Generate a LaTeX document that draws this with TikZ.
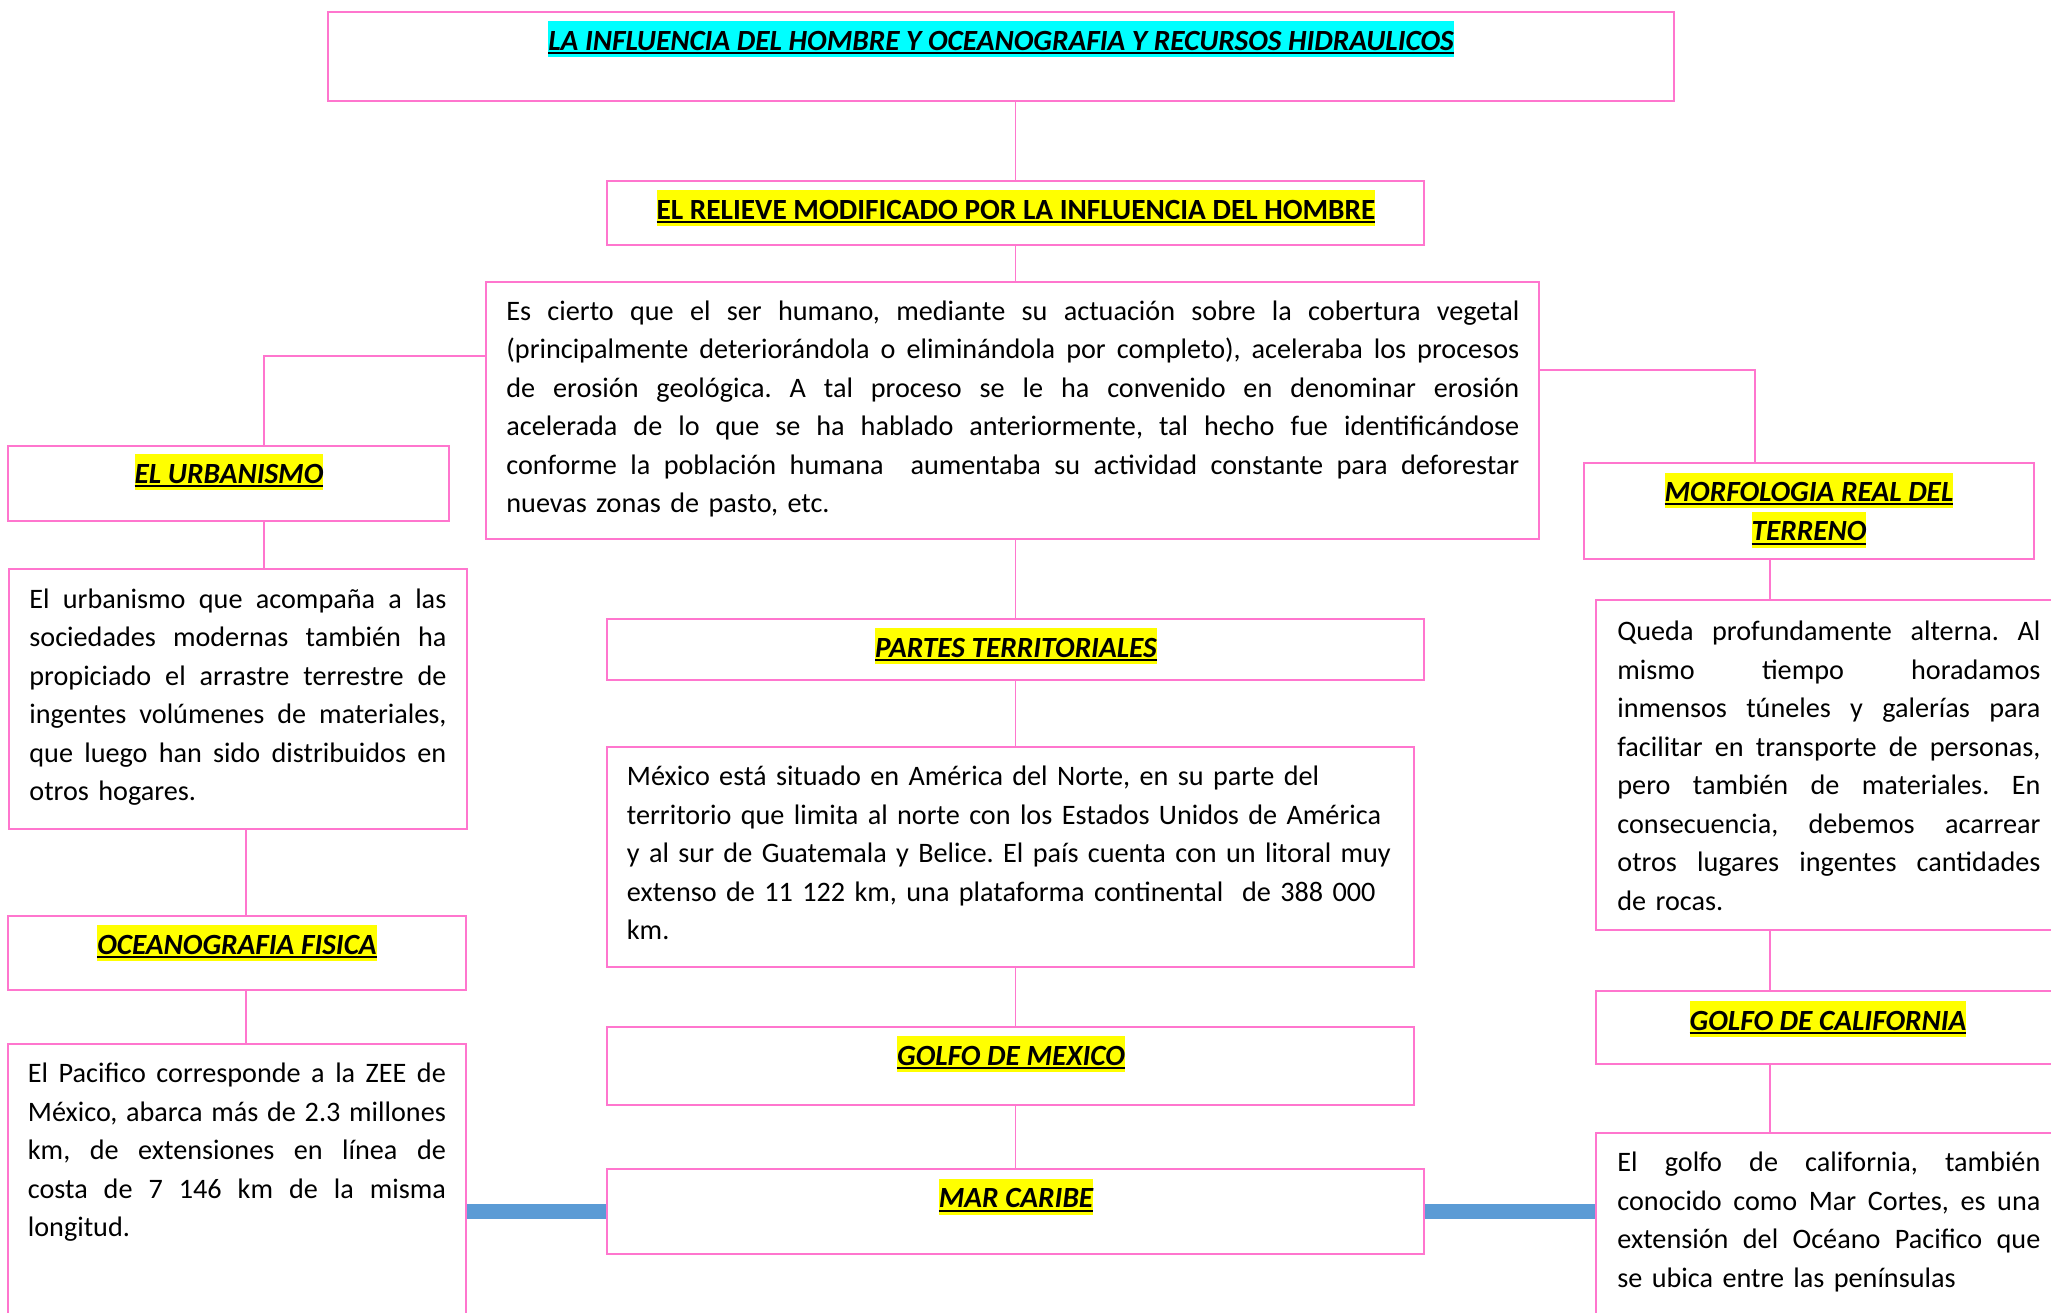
\documentclass[tikz,border=0pt]{standalone}
\usepackage{fontspec}
\setmainfont{Carlito}
\usetikzlibrary{fit}
\frenchspacing
\definecolor{pinkln}{RGB}{255,118,206}
\definecolor{bluebar}{RGB}{91,155,213}
\definecolor{hlyel}{RGB}{255,255,0}
\definecolor{hlcyan}{RGB}{0,255,255}
\newcommand\hlt[2]{\begingroup\setlength\fboxsep{0pt}\setbox0=\hbox{#2}\colorbox{#1}{\rule[-0.24em]{0pt}{1.22em}\rlap{\rule[-0.14em]{\wd0}{0.07em}}\box0}\endgroup}
\newlength\jw
\newcommand\jline[1]{{\spaceskip=\fontdimen2\font plus 1fil\relax\xspaceskip=\spaceskip\hbox to \jw{#1}}}
\newcommand\rline[1]{\hbox{#1}}
\newcommand\bodyfont{\fontsize{14.1pt}{19.25pt}\selectfont}
\newcommand\headfont{\fontsize{14.65pt}{19.25pt}\selectfont}
\begin{document}
\begin{tikzpicture}[x=0.5pt,y=-0.5pt,
  box/.style={draw=pinkln, line width=1pt, inner sep=0pt},
  conn/.style={draw=pinkln, line width=0.8pt},
  blueconn/.style={draw=bluebar, line width=7.5pt},
  hd/.style={inner sep=0pt, anchor=base, font=\headfont\bfseries\itshape},
  ptxt/.style={inner sep=0pt, anchor=base west, font=\bodyfont}]
\useasboundingbox[fill=white] (0,0) rectangle (2051,1312);

% boxes
\node[box, fit={(328,12) (1674,101)}] (title) {};
\node[box, fit={(607,180.5) (1424,244.6)}] (relieve) {};
\node[box, fit={(485.5,281.7) (1539,539)}] (para) {};
\node[box, fit={(8,446) (449,521)}] (urbT) {};
\node[box, fit={(9,569) (467,829)}] (urbP) {};
\node[box, fit={(8,916) (466,990)}] (oceT) {};
\node[box, fit={(8,1044) (466,1330)}] (oceP) {};
\node[box, fit={(607,619) (1424,680)}] (partes) {};
\node[box, fit={(607,747) (1414,967)}] (mex) {};
\node[box, fit={(607,1027) (1414,1105)}] (gmex) {};
\node[box, fit={(607,1169) (1424,1254)}] (mar) {};
\node[box, fit={(1584,463) (2034,558.5)}] (morfT) {};
\node[box, fit={(1596,600) (2070,930)}] (queda) {};
\node[box, fit={(1596,991) (2070,1064)}] (gcal) {};
\node[box, fit={(1596,1133) (2070,1330)}] (golfoP) {};

% connectors
\coordinate (jl) at (264,356);
\coordinate (jo) at (246,990);
\coordinate (jr) at (1755,370);
\coordinate (jq) at (1770,600);
\draw[conn] (relieve.north |- title.south) -- (relieve.north);
\draw[conn] (relieve.south) -- (relieve.south |- para.north);
\draw[conn] (partes.north |- para.south) -- (partes.north);
\draw[conn] (partes.south) -- (partes.south |- mex.north);
\draw[conn] (partes.south |- mex.south) -- (partes.south |- gmex.north);
\draw[conn] (mar.north |- gmex.south) -- (mar.north);
\draw[conn] (jl -| para.west) -- (jl) -- (jl |- urbT.north);
\draw[conn] (jl |- urbT.south) -- (jl |- urbP.north);
\draw[conn] (jo |- urbP.south) -- (jo |- oceT.north);
\draw[conn] (jo |- oceT.south) -- (jo |- oceP.north);
\draw[conn] (jr -| para.east) -- (jr) -- (jr |- morfT.north);
\draw[conn] (jq |- morfT.south) -- (jq |- queda.north);
\draw[conn] (jq |- queda.south) -- (jq |- gcal.north);
\draw[conn] (jq |- gcal.south) -- (jq |- golfoP.north);
\draw[blueconn] (oceP.east |- mar.west) -- (mar.west);
\draw[blueconn] (mar.east) -- (mar.east -| golfoP.west);

% headings
\node[hd] (tTitle) at (1001,50) {\hlt{hlcyan}{LA INFLUENCIA DEL HOMBRE Y OCEANOGRAFIA Y RECURSOS HIDRAULICOS}};
\node[hd, font=\headfont\bfseries] (tRelieve) at (1016,219) {\hlt{hlyel}{EL RELIEVE MODIFICADO POR LA INFLUENCIA DEL HOMBRE}};
\node[hd] (tUrb) at (229,483) {\hlt{hlyel}{EL URBANISMO}};
\node[hd] (tOce) at (237,954) {\hlt{hlyel}{OCEANOGRAFIA FISICA}};
\node[hd] (tPartes) at (1016,657) {\hlt{hlyel}{PARTES TERRITORIALES}};
\node[hd] (tGmex) at (1011,1065) {\hlt{hlyel}{GOLFO DE MEXICO}};
\node[hd] (tMar) at (1016,1207.5) {\hlt{hlyel}{MAR CARIBE}};
\node[hd] (tMorf1) at (1809,501.3) {\hlt{hlyel}{MORFOLOGIA REAL DEL}};
\node[hd] (tMorf2) at (1809,540.5) {\hlt{hlyel}{TERRENO}};
\node[hd] (tGcal) at (1828,1030) {\hlt{hlyel}{GOLFO DE CALIFORNIA}};

% paragraphs
\node[ptxt, text width=506.5pt] (tPara) at (506,320) {\setlength\jw{506.5pt}%
\jline{Es cierto que el ser humano, mediante su actuación sobre la cobertura vegetal}
\jline{(principalmente deteriorándola o eliminándola por completo), aceleraba los procesos}
\jline{de erosión geológica. A tal proceso se le ha convenido en denominar erosión}
\jline{acelerada de lo que se ha hablado anteriormente, tal hecho fue identificándose}
\jline{conforme la población humana\ \ aumentaba su actividad constante para deforestar}
\rline{nuevas zonas de pasto, etc.}};

\node[ptxt, text width=208.5pt] (tUrbP) at (29,608) {\setlength\jw{208.5pt}%
\jline{El urbanismo que acompaña a las}
\jline{sociedades modernas también ha}
\jline{propiciado el arrastre terrestre de}
\jline{ingentes volúmenes de materiales,}
\jline{que luego han sido distribuidos en}
\rline{otros hogares.}};

\node[ptxt, text width=209pt] (tOceP) at (27.5,1082.6) {\setlength\jw{209pt}%
\jline{El Pacifico corresponde a la ZEE de}
\jline{México, abarca más de 2.3 millones}
\jline{km, de extensiones en línea de}
\jline{costa de 7 146 km de la misma}
\rline{longitud.}};

\node[ptxt, text width=390pt] (tMex) at (626.5,785.6) {%
\rline{México está situado en América del Norte, en su parte del}
\rline{territorio que limita al norte con los Estados Unidos de América}
\rline{y al sur de Guatemala y Belice. El país cuenta con un litoral muy}
\rline{extenso de 11 122 km, una plataforma continental\ \ de 388 000}
\rline{km.}};

\node[ptxt, text width=211.5pt] (tQueda) at (1617,640.5) {\setlength\jw{211.5pt}%
\jline{Queda profundamente alterna. Al}
\jline{mismo tiempo horadamos}
\jline{inmensos túneles y galerías para}
\jline{facilitar en transporte de personas,}
\jline{pero también de materiales. En}
\jline{consecuencia, debemos acarrear}
\jline{otros lugares ingentes cantidades}
\rline{de rocas.}};

\node[ptxt, text width=211.5pt] (tGolfoP) at (1617,1171.5) {\setlength\jw{211.5pt}%
\jline{El golfo de california, también}
\jline{conocido como Mar Cortes, es una}
\jline{extensión del Océano Pacifico que}
\rline{se ubica entre las penínsulas}};
\end{tikzpicture}
\end{document}
